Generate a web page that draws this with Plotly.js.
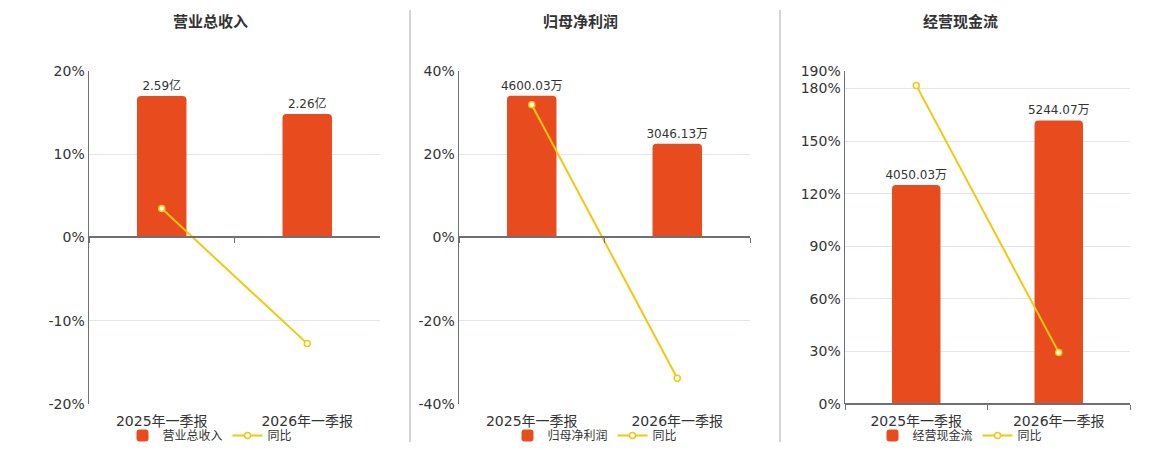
<!DOCTYPE html>
<html>
<head>
<meta charset="utf-8">
<script src="https://cdn.plot.ly/plotly-3.0.1.min.js"></script>
<style>html,body{margin:0;padding:0;background:#fff;}#chart{width:1160px;height:450px;}</style>
</head>
<body>
<div id="chart"></div>
<script>
// ---- data ----
const categories = ['2025年一季报', '2026年一季报'];

const panelTitles = ['营业总收入', '归母净利润', '经营现金流'];

const revenueValues = [2.59, 2.26];          // 亿
const revenueYoY = [3.47, -12.74];           // %

const profitValues = [4600.03, 3046.13];     // 万
const profitYoY = [31.86, -33.78];           // %

const cashflowValues = [4050.03, 5244.07];   // 万
const cashflowYoY = [181.7, 29.48];          // %

const barUnits = ['亿', '万', '万'];
const yoyName = '同比';

// ---- styles ----
const BAR_COLOR = '#e84c1e';
const LINE_COLOR = '#f2c80f';
const FONT = 'DejaVu Sans, Noto Sans CJK SC, sans-serif';
const W = 1160, H = 450;
const px = v => v / W;
const py = v => 1 - v / H;

const xDomains = [[px(89), px(380)], [px(459), px(750)], [px(845), px(1130)]];
const yDomain = [py(405), py(71)];
const barRanges = [[-3.05, 3.05], [-5410, 5410], [0, 6160]];
const pctAxes = [
  {range: [-20, 20], tickvals: [-20, -10, 0, 10, 20]},
  {range: [-40, 40], tickvals: [-40, -20, 0, 20, 40]},
  {range: [0, 190], tickvals: [0, 30, 60, 90, 120, 150, 180, 190]}
];
const titleX = [210, 580, 960];
const legendX = [210, 595, 960];
const zeroLineY = [238, 238, 405];

const barSeries = [revenueValues, profitValues, cashflowValues];
const yoySeries = [revenueYoY, profitYoY, cashflowYoY];

const traces = [];
const layout = {
  width: W, height: H,
  margin: {l: 0, r: 0, t: 0, b: 0},
  paper_bgcolor: '#fff', plot_bgcolor: '#fff',
  font: {family: FONT, color: '#333', size: 12},
  showlegend: true,
  hovermode: false,
  barcornerradius: 4,
  annotations: [],
  shapes: [
    {type: 'line', xref: 'paper', yref: 'paper', x0: px(410), x1: px(410), y0: py(10), y1: py(443), line: {color: '#aaaaaa', width: 1}},
    {type: 'line', xref: 'paper', yref: 'paper', x0: px(780), x1: px(780), y0: py(10), y1: py(443), line: {color: '#aaaaaa', width: 1}}
  ]
};

for (let i = 0; i < 3; i++) {
  const n = i + 1;
  const xk = n === 1 ? 'x' : 'x' + n;
  const yk = n === 1 ? 'y' : 'y' + n;
  const ok = 'x' + (n + 3);
  const pk = 'y' + (n + 3);
  const legKey = n === 1 ? 'legend' : 'legend' + n;

  traces.push({
    type: 'bar', x: categories, y: barSeries[i], xaxis: xk, yaxis: yk,
    name: panelTitles[i], legend: legKey,
    marker: {color: BAR_COLOR},
    width: 0.34,
    text: barSeries[i].map(v => v.toFixed(2) + barUnits[i]),
    textposition: 'outside', cliponaxis: false, constraintext: 'none',
    textfont: {size: 12, color: '#333', family: FONT},
    hoverinfo: 'skip'
  });
  traces.push({
    type: 'scatter', mode: 'lines+markers', x: categories, y: yoySeries[i],
    xaxis: ok, yaxis: pk, name: yoyName, legend: legKey,
    line: {color: LINE_COLOR, width: 2},
    marker: {symbol: 'circle', size: 6, color: '#fff', line: {color: LINE_COLOR, width: 1.5}},
    cliponaxis: false, hoverinfo: 'skip'
  });

  layout[n === 1 ? 'xaxis' : 'xaxis' + n] = {
    domain: xDomains[i], anchor: yk, type: 'category',
    showgrid: false, zeroline: false, showline: false,
    ticks: 'outside', tickson: 'boundaries', ticklen: 5,
    tickcolor: 'rgba(0,0,0,0)', ticklabelstandoff: 7,
    tickfont: {size: 14, color: '#333', family: FONT},
    fixedrange: true
  };
  layout['xaxis' + (n + 3)] = {
    overlaying: xk, matches: xk, anchor: 'free', position: py(zeroLineY[i]),
    type: 'category', showgrid: false, zeroline: false,
    showline: true, linecolor: '#6e7079', linewidth: 2,
    ticks: 'outside', tickson: 'boundaries', ticklen: 5, tickcolor: '#6e7079', tickwidth: 1,
    showticklabels: false, fixedrange: true
  };
  layout[n === 1 ? 'yaxis' : 'yaxis' + n] = {
    domain: yDomain, anchor: xk, range: barRanges[i], visible: false, fixedrange: true
  };
  layout['yaxis' + (n + 3)] = {
    overlaying: yk, anchor: xk, side: 'left',
    range: pctAxes[i].range, tickvals: pctAxes[i].tickvals,
    ticktext: pctAxes[i].tickvals.map(v => v + '%'),
    showgrid: true, gridcolor: '#e0e6f1', gridwidth: 1,
    zeroline: false,
    showline: true, linecolor: '#6e7079', linewidth: 1.5,
    ticks: '', tickfont: {size: 14, color: '#333', family: FONT},
    fixedrange: true
  };
  layout[legKey] = {
    orientation: 'h', x: px(legendX[i]), xanchor: 'center', y: py(436), yanchor: 'middle',
    font: {size: 12, color: '#333', family: FONT}, bgcolor: 'rgba(0,0,0,0)',
    itemclick: false, itemdoubleclick: false
  };
  layout.annotations.push({
    xref: 'paper', yref: 'paper', x: px(titleX[i]), y: py(22), xanchor: 'center', yanchor: 'middle',
    text: '<b>' + panelTitles[i] + '</b>', showarrow: false,
    font: {size: 15, color: '#333', family: FONT}
  });
}

Plotly.newPlot('chart', traces, layout, {displayModeBar: false, staticPlot: true});
</script>
</body>
</html>
